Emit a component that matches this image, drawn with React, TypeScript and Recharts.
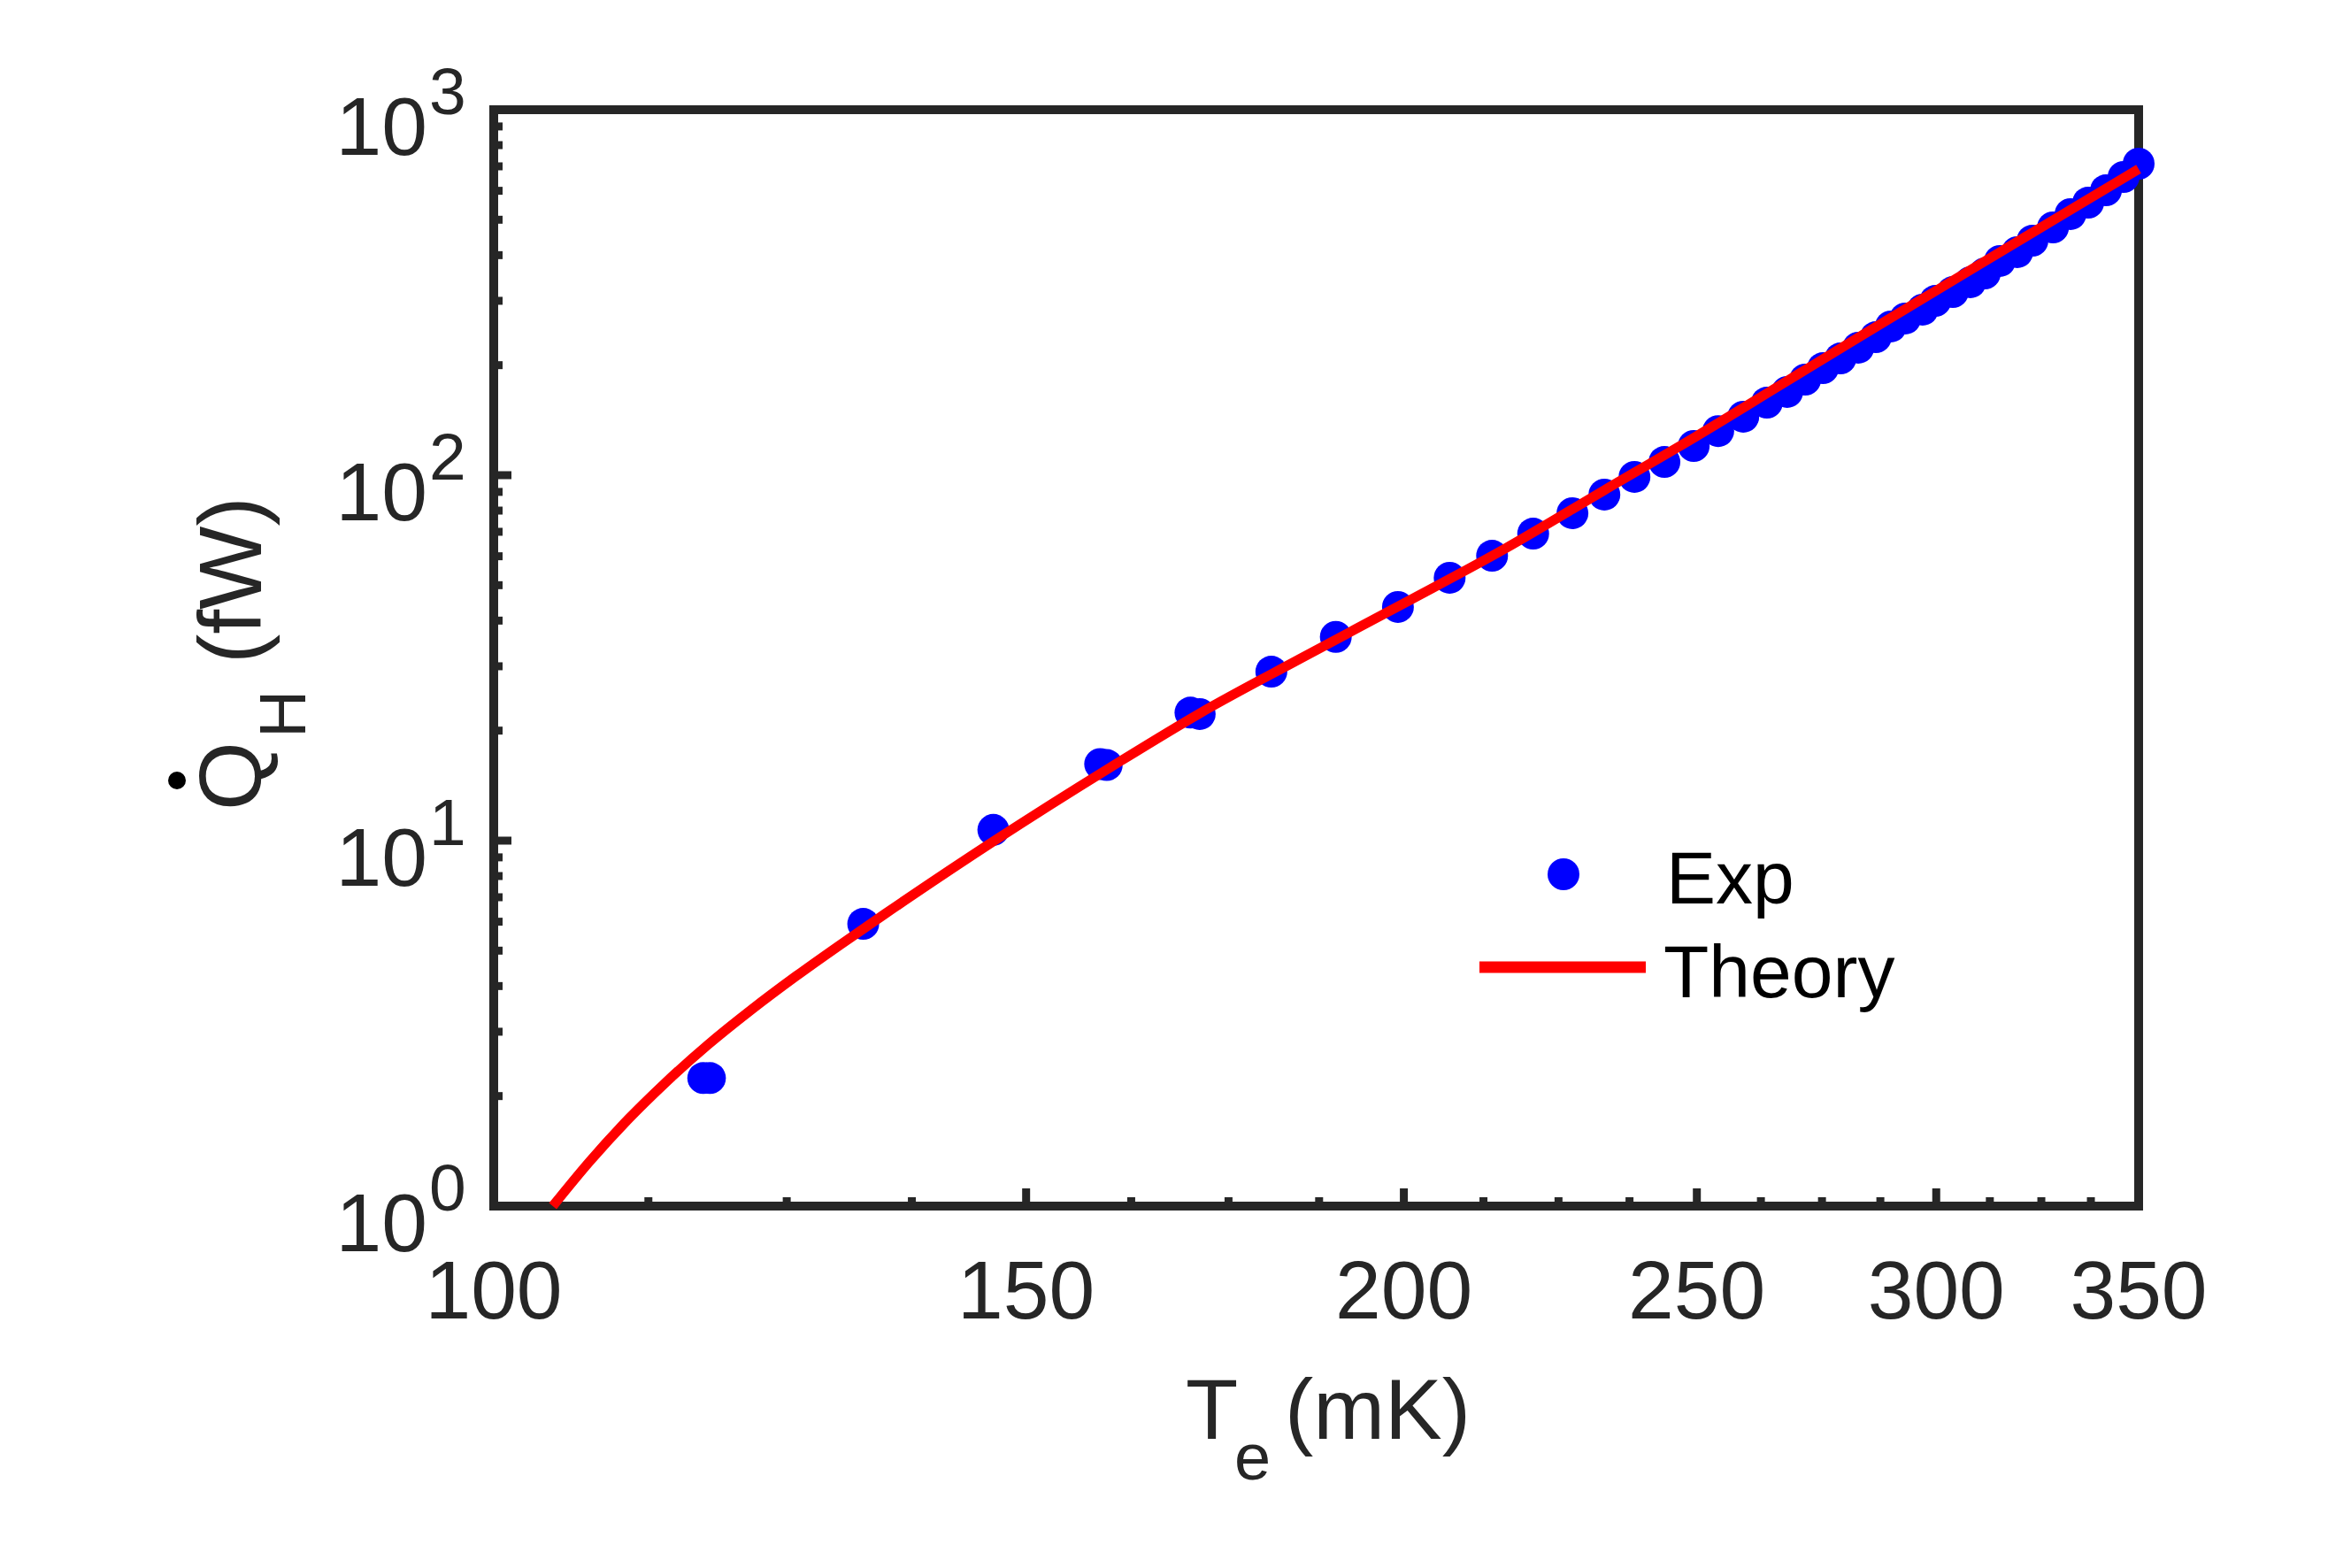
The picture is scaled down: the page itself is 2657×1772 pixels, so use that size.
import React from 'react';
import { ComposedChart, Scatter, Line, XAxis, YAxis, Legend } from 'recharts';

// measured points (Te in mK, heat flow in fW)
const expT = [117.3, 117.9, 132.5, 146.3, 158.7, 159.5, 170.0, 171.2, 180.8, 189.9, 199.1, 207.1, 213.9, 220.7, 227.4, 233.0, 238.4, 243.9, 249.4, 254.1, 259.0, 263.7, 267.8, 271.5, 275.2, 278.9, 282.7, 286.5, 289.8, 293.0, 296.9, 299.8, 303.8, 307.9, 311.3, 314.9, 319.1, 322.8, 327.9, 332.3, 336.8, 341.4, 346.0, 350.0];
const expQ = [2.24, 2.24, 5.92, 10.7, 16.2, 16.1, 22.4, 22.2, 29.0, 36.1, 43.6, 52.4, 60.2, 69.2, 78.7, 88.5, 98.9, 108.7, 120.2, 132, 144.5, 157.9, 168.9, 182.6, 196.3, 208.7, 223.2, 238.6, 255.2, 268.3, 283.7, 299.9, 317.1, 337.2, 356.5, 385.5, 407.6, 438.1, 476.4, 518.0, 556.8, 602.0, 654.6, 711.7];

// theory curve
const theoryT = [104.6, 107.6, 110.8, 113.8, 117.7, 121.7, 125.9, 130.2, 134.7, 146.3, 160, 171.2, 185, 200, 215.9, 233, 250, 266, 282.7, 300, 323.5, 350];
const theoryQ = [1.0, 1.327, 1.73, 2.15, 2.76, 3.45, 4.26, 5.19, 6.3, 9.95, 15.9, 22.3, 31.6, 44.6, 62.8, 91, 128, 175, 238, 320, 466, 688];

const xMajor = [100, 150, 200, 250, 300, 350];
const xTicks = [100, 112.5, 125, 137.5, 150, 162.5, 175, 187.5, 200, 212.5, 225, 237.5, 250, 262.5, 275, 287.5, 300, 312.5, 325, 337.5, 350];
const yMajor = [1, 10, 100, 1000];
const yExponents = ['0', '1', '2', '3'];
const yTicks = [1, 2, 3, 4, 5, 6, 7, 8, 9, 10, 20, 30, 40, 50, 60, 70, 80, 90, 100, 200, 300, 400, 500, 600, 700, 800, 900, 1000];

const expData = expT.map((t, i) => ({ t, q: expQ[i] }));
const theoryData = theoryT.map((t, i) => ({ t, q: theoryQ[i] }));

const AX = '#262626';
const FONT = '"Liberation Sans", Arial, Helvetica, sans-serif';
const MAJOR_LEN = 20;
const MINOR_LEN = 10;

const BottomTick = (props: any) => {
  const { x, y, payload } = props;
  const major = xMajor.includes(payload.value);
  return (
    <g>
      <line x1={x} x2={x} y1={y} y2={y - (major ? MAJOR_LEN : MINOR_LEN)} stroke={AX} strokeWidth={9} />
      {major && (
        <text x={x} y={y + 127} textAnchor="middle" fontSize={93} fill={AX} fontFamily={FONT}>
          {payload.value}
        </text>
      )}
    </g>
  );
};

const TopTick = (props: any) => {
  const { x, y, payload } = props;
  const major = xMajor.includes(payload.value);
  return <line x1={x} x2={x} y1={y} y2={y + (major ? MAJOR_LEN : MINOR_LEN)} stroke={AX} strokeWidth={9} />;
};

const LeftTick = (props: any) => {
  const { x, y, payload } = props;
  const idx = yMajor.indexOf(payload.value);
  const major = idx >= 0;
  return (
    <g>
      <line x1={x} x2={x + (major ? MAJOR_LEN : MINOR_LEN)} y1={y} y2={y} stroke={AX} strokeWidth={9} />
      {major && (
        <g fill={AX} fontFamily={FONT}>
          <text x={x - 75} y={y + 51} textAnchor="end" fontSize={93}>10</text>
          <text x={x - 73} y={y + 5} textAnchor="start" fontSize={75}>{yExponents[idx]}</text>
        </g>
      )}
    </g>
  );
};

const RightTick = (props: any) => {
  const { x, y, payload } = props;
  const major = yMajor.includes(payload.value);
  return <line x1={x} x2={x - (major ? MAJOR_LEN : MINOR_LEN)} y1={y} y2={y} stroke={AX} strokeWidth={9} />;
};

const xLabel = () => (
  <text x={1340} y={1626} fontSize={97} fill={AX} fontFamily={FONT}>
    <tspan>T</tspan>
    <tspan x={1395} dy={46} fontSize={74}>e</tspan>
    <tspan x={1452} dy={-46}>(mK)</tspan>
  </text>
);

const yLabel = () => (
  <g transform="translate(295,916) rotate(-90)">
    <text x={0} y={0} fontSize={100} fill={AX} fontFamily={FONT}>
      <tspan>Q</tspan>
      <tspan x={82} dy={50} fontSize={75}>H</tspan>
      <tspan x={166} dy={-50}>(fW)</tspan>
    </text>
    <circle cx={34} cy={-95} r={10} fill="#000000" />
  </g>
);

const renderLegend = () => (
  <svg width={640} height={240} style={{ display: 'block' }}>
    <circle cx={127} cy={58} r={18} fill="#0000ff" />
    <line x1={32} x2={220} y1={163} y2={163} stroke="#ff0000" strokeWidth={13} />
    <text x={243} y={91} fontSize={84} fill="#000000" fontFamily={FONT}>Exp</text>
    <text x={240} y={197} fontSize={84} fill="#000000" fontFamily={FONT}>Theory</text>
  </svg>
);

const dotShape = (p: any) => <circle cx={p.cx} cy={p.cy} r={18} fill="#0000ff" />;

const axisLine = { stroke: AX, strokeWidth: 10, strokeLinecap: 'square' as const };

export default function App() {
  return (
    <div style={{ position: 'absolute', left: 0, top: 0, background: '#ffffff', fontFamily: FONT }}>
      <ComposedChart
        width={2657}
        height={1772}
        margin={{ top: 123, right: 239, left: 557, bottom: 408 }}
      >
        <XAxis
          xAxisId="b"
          dataKey="t"
          type="number"
          scale="log"
          domain={[100, 350]}
          ticks={xTicks}
          interval={0}
          height={1}
          tickSize={0}
          tickMargin={0}
          tickLine={false}
          tick={(p: any) => <BottomTick {...p} />}
          axisLine={axisLine}
          label={xLabel}
        />
        <XAxis
          xAxisId="t"
          orientation="top"
          dataKey="t"
          type="number"
          scale="log"
          domain={[100, 350]}
          ticks={xTicks}
          interval={0}
          height={1}
          tickSize={0}
          tickMargin={0}
          tickLine={false}
          tick={(p: any) => <TopTick {...p} />}
          axisLine={axisLine}
        />
        <YAxis
          yAxisId="l"
          dataKey="q"
          type="number"
          scale="log"
          domain={[1, 1000]}
          ticks={yTicks}
          interval={0}
          width={1}
          tickSize={0}
          tickMargin={0}
          tickLine={false}
          tick={(p: any) => <LeftTick {...p} />}
          axisLine={axisLine}
          label={yLabel}
        />
        <YAxis
          yAxisId="r"
          orientation="right"
          dataKey="q"
          type="number"
          scale="log"
          domain={[1, 1000]}
          ticks={yTicks}
          interval={0}
          width={1}
          tickSize={0}
          tickMargin={0}
          tickLine={false}
          tick={(p: any) => <RightTick {...p} />}
          axisLine={axisLine}
        />
        <Scatter
          name="Exp"
          data={expData}
          xAxisId="b"
          yAxisId="l"
          dataKey="q"
          shape={dotShape}
          isAnimationActive={false}
        />
        <Line
          name="Theory"
          data={theoryData}
          xAxisId="b"
          yAxisId="l"
          dataKey="q"
          type="monotone"
          stroke="#ff0000"
          strokeWidth={11}
          dot={false}
          activeDot={false}
          zIndex={650}
          isAnimationActive={false}
        />
        <Legend
          layout="vertical"
          align="center"
          verticalAlign="middle"
          content={renderLegend}
          wrapperStyle={{ left: 1640, top: 930, width: 640, height: 240 }}
        />
      </ComposedChart>
    </div>
  );
}
